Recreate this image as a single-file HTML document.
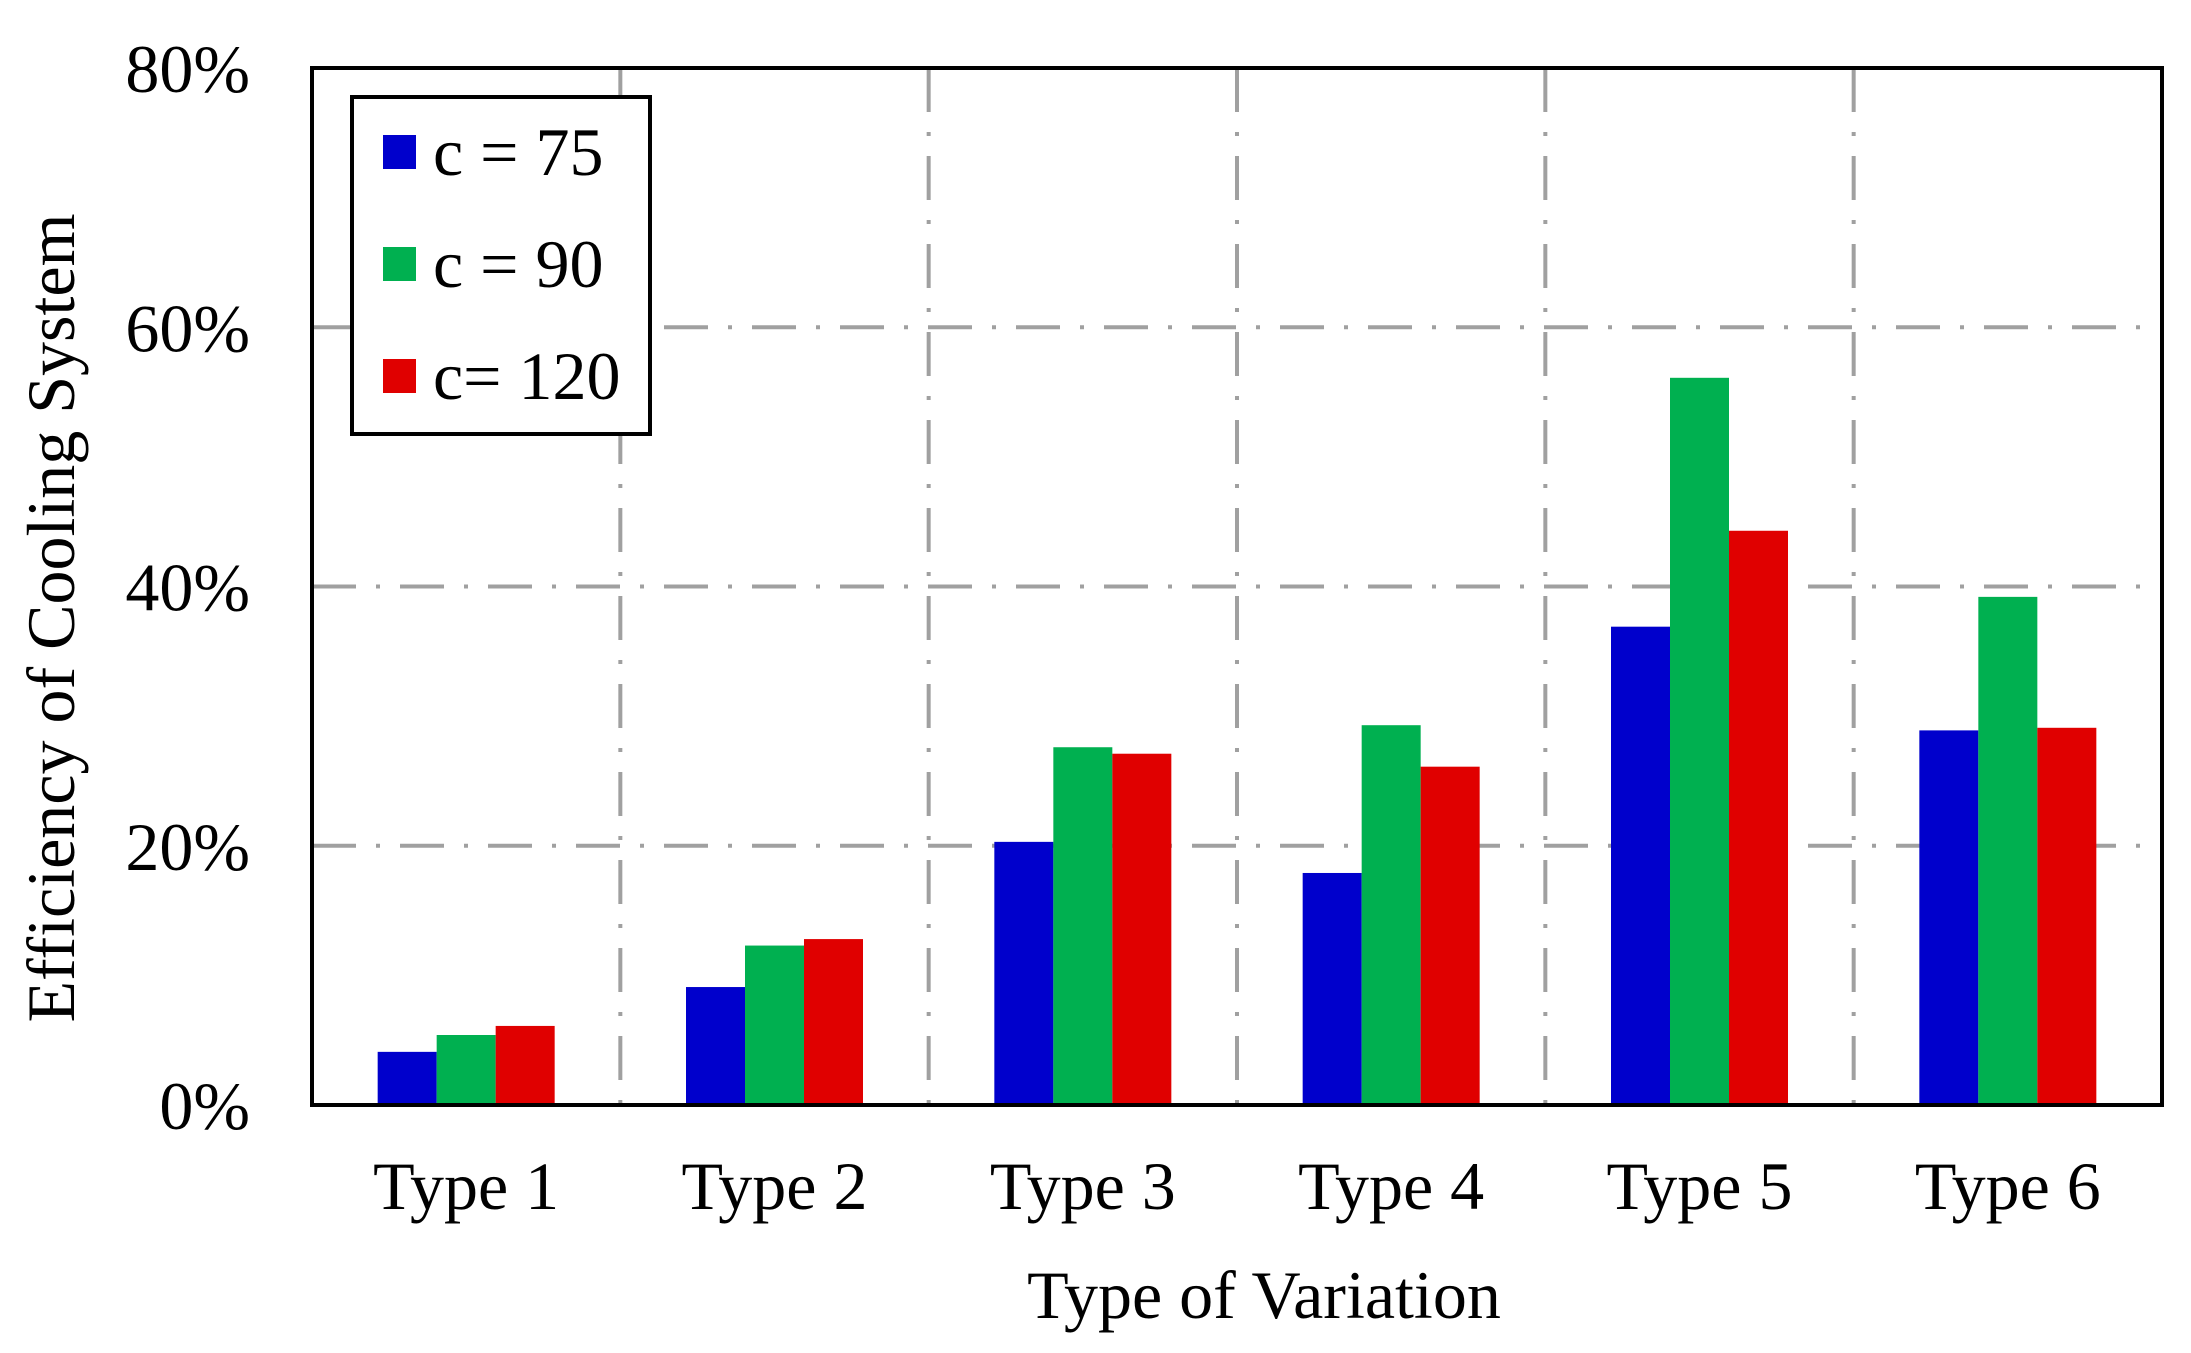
<!DOCTYPE html>
<html><head><meta charset="utf-8"><style>
html,body{margin:0;padding:0;background:#fff;}
svg{display:block;font-family:"Liberation Serif",serif;}
</style></head><body>
<svg id="chart" width="2191" height="1353" viewBox="0 0 2191 1353">
<g id="grid"></g>
<g id="bars"></g>
<rect x="312" y="68" width="1850" height="1037" fill="none" stroke="#000" stroke-width="4"/>
<g id="yticks"></g>
<g id="xticks"></g>
<text x="1264" y="1318" font-size="68" text-anchor="middle">Type of Variation</text>
<text transform="translate(74,618) rotate(-90)" font-size="68" text-anchor="middle">Efficiency of Cooling System</text>
<g>
<rect x="352" y="97" width="298" height="337" fill="#fff" stroke="#000" stroke-width="4"/>
<g id="legendItems"></g>
</g>
</svg>
<script>
const categories=["Type 1","Type 2","Type 3","Type 4","Type 5","Type 6"];
const seriesNames=["c = 75","c = 90","c= 120"];
const c75=[4.1,9.1,20.3,17.9,36.9,28.9];
const c90=[5.4,12.3,27.6,29.3,56.1,39.2];
const c120=[6.1,12.8,27.1,26.1,44.3,29.1];
const yTicks=[0,20,40,60,80];
const yTickLabels=["0%","20%","40%","60%","80%"];

const NS="http://www.w3.org/2000/svg";
const colors=["#0000cc","#00b050","#e00000"];
const L=312,R=2162,T=68,B=1105,yMax=80;
const bw=(R-L)/categories.length;
const barW=59;
function y(v){return B-(v/yMax)*(B-T);}
function x(i){return L+bw*i;}
function mk(tag,attrs,parent){const e=document.createElementNS(NS,tag);for(const k in attrs)e.setAttribute(k,attrs[k]);parent.appendChild(e);return e;}
const grid=document.getElementById('grid');
const dash="44 20 4 20";
yTicks.forEach((t,i)=>{
  if(t>0&&t<yMax){
    const l=mk('line',{x1:L,x2:R,y1:y(t),y2:y(t),stroke:'#a0a0a0','stroke-width':4,'stroke-dasharray':dash},grid);
    
    
  }
  const tx=mk('text',{x:250,y:y(t)+24,'font-size':68,'text-anchor':'end'},document.getElementById('yticks'));
  tx.textContent=yTickLabels[i];
  
  
});
for(let i=1;i<categories.length;i++){
  const l=mk('line',{x1:x(i),x2:x(i),y1:T,y2:B,stroke:'#a0a0a0','stroke-width':4,'stroke-dasharray':dash},grid);
  
  
}
const series=[c75,c90,c120];
const bars=document.getElementById('bars');
categories.forEach((c,i)=>{
  const cx=x(i)+bw/2;
  series.forEach((s,j)=>{
    const r=mk('rect',{x:cx-1.5*barW+j*barW,y:y(s[i]),width:barW,height:B-y(s[i]),fill:colors[j]},bars);
    
    
  });
  const tx=mk('text',{x:cx,y:1209,'font-size':68,'text-anchor':'middle'},document.getElementById('xticks'));
  tx.textContent=c;
  
  
});
const li=document.getElementById('legendItems');
seriesNames.forEach((n,j)=>{
  const yy=135+j*112;
  const sw=mk('rect',{x:383,y:yy,width:33,height:34,fill:colors[j]},li);
  
  
  const t=mk('text',{x:433,y:yy+40,'font-size':68},li);
  t.textContent=n;
  
  
});
</script>
</body></html>
